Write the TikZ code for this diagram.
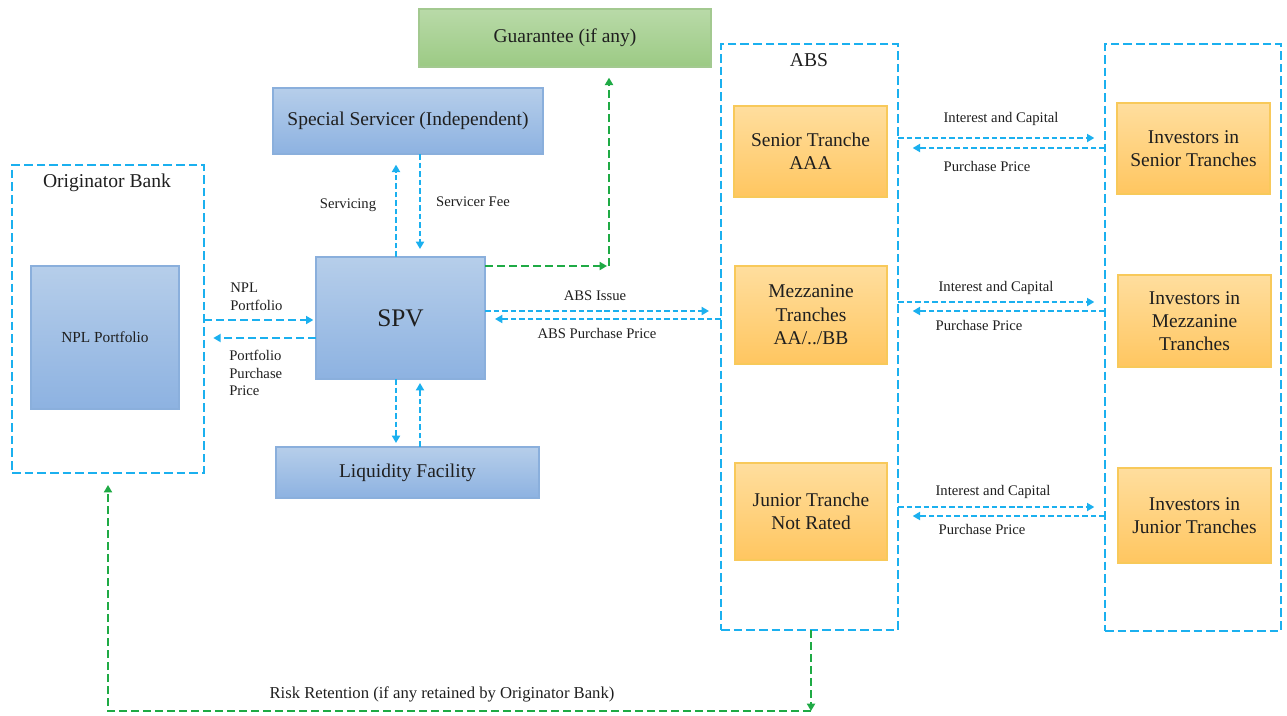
\documentclass[tikz,border=0pt]{standalone}
\usepackage{fontspec}
\setmainfont{Liberation Serif}
\usetikzlibrary{arrows.meta}
\definecolor{bluetop}{HTML}{B6CEEA}
\definecolor{bluebot}{HTML}{8DB2E1}
\definecolor{blueedge}{HTML}{8AAFDC}
\definecolor{ortop}{HTML}{FFDE9E}
\definecolor{orbot}{HTML}{FFC660}
\definecolor{oredge}{HTML}{F8C95A}
\definecolor{grtop}{HTML}{B9DAA8}
\definecolor{grbot}{HTML}{9CCA84}
\definecolor{gredge}{HTML}{A3C990}
\definecolor{cyanline}{HTML}{1BB0EF}
\definecolor{greenline}{HTML}{1FAA45}
\definecolor{txt}{HTML}{1F1F1F}
\tikzset{
  boxbase/.style={line width=0.8pt, inner sep=0pt, outer sep=0pt, align=center, text=txt,
    font=\fontsize{14.6}{17.5}\selectfont},
  bluebox/.style={boxbase, draw=blueedge, top color=bluetop, bottom color=bluebot},
  orbox/.style={boxbase, draw=oredge, top color=ortop, bottom color=orbot},
  grbox/.style={boxbase, draw=gredge, top color=grtop, bottom color=grbot},
  dashbox/.style={draw=cyanline, line width=2.1pt, dash pattern=on 6.5pt off 3pt, inner sep=0pt, outer sep=0pt},
  tip/.style={-{Triangle[length=5.5pt,width=6pt]}},
  carr/.style={draw=cyanline, line width=1.7pt, dash pattern=on 4.2pt off 2.2pt, tip},
  carrthick/.style={draw=cyanline, line width=2pt, dash pattern=on 6pt off 3pt, tip},
  garr/.style={draw=greenline, line width=2pt, dash pattern=on 6pt off 3pt, tip},
  lbl/.style={font=\fontsize{11}{13.2}\selectfont, text=txt, inner sep=0pt},
  title/.style={font=\fontsize{14.7}{17.5}\selectfont, text=txt, inner sep=0pt},
}
\begin{document}
\begin{tikzpicture}[x=0.75pt,y=-0.75pt]
\useasboundingbox (0,0) rectangle (1287,715);

% containers
\node[dashbox, minimum width=144pt, minimum height=231pt] (orig) at (108,319) {};
\node[dashbox, minimum width=132.75pt, minimum height=439.5pt] (absbox) at (809.5,337) {};
\node[dashbox, minimum width=132pt, minimum height=440.25pt] (invbox) at (1193,337.5) {};
\node[title] (origt) at (107,183) {Originator Bank};
\node[title] (abst) at (809,60) {ABS};

% boxes
\node[bluebox, minimum width=111pt, minimum height=107.25pt, font=\fontsize{11.5}{13.8}\selectfont] (npl) at (105,337.5) {NPL Portfolio};
\node[bluebox, minimum width=126.75pt, minimum height=91.5pt, font=\fontsize{19}{22}\selectfont] (spv) at (400.5,318) {SPV};
\node[bluebox, minimum width=202.5pt, minimum height=49.5pt] (ss) at (408,121) {Special Servicer (Independent)};
\node[bluebox, minimum width=197.25pt, minimum height=38.25pt] (liq) at (407.5,472.5) {Liquidity Facility};
\node[grbox, minimum width=219pt, minimum height=43.5pt] (guar) at (565,38) {Guarantee (if any)};

\node[orbox, minimum width=114.75pt, minimum height=68.25pt] (sen) at (810.5,151.5) {Senior Tranche\\AAA};
\node[orbox, minimum width=114pt, minimum height=73.5pt] (mez) at (811,315) {Mezzanine\\Tranches\\AA/../BB};
\node[orbox, minimum width=114pt, minimum height=72.75pt] (jun) at (811,511.5) {Junior Tranche\\Not Rated};
\node[orbox, minimum width=114.75pt, minimum height=68.25pt] (isen) at (1193.5,148.5) {Investors in\\Senior Tranches};
\node[orbox, minimum width=114.75pt, minimum height=69pt] (imez) at (1194.5,321) {Investors in\\Mezzanine\\Tranches};
\node[orbox, minimum width=114.75pt, minimum height=71.25pt] (ijun) at (1194.5,515.5) {Investors in\\Junior Tranches};

% originator <-> SPV
\draw[carrthick, shorten >=2pt] (orig.east |- 0,320) -- (spv.west |- 0,320);
\draw[carrthick, shorten >=7pt] (spv.west |- 0,338) -- (orig.east |- 0,338);
\node[lbl, anchor=west, align=left] (l1) at (230,297) {NPL\\Portfolio};
\node[lbl, anchor=west, align=left] (l2) at (229,373) {Portfolio\\Purchase\\Price};

% servicer
\draw[carr, shorten >=8pt] (spv.north -| 396,0) -- (ss.south -| 396,0);
\draw[carr, shorten >=6pt] (ss.south -| 420,0) -- (spv.north -| 420,0);
\node[lbl] (l3) at (348,205) {Servicing};
\node[lbl] (l4) at (473,202) {Servicer Fee};

% guarantee
\coordinate (g1) at (609,266);
\draw[garr, shorten >=1.5pt] (spv.east |- g1) -- (g1);
\draw[garr, shorten >=8pt] (g1) -- (guar.south -| g1);

% ABS issue
\draw[carr, shorten >=9pt] (spv.east |- 0,311) -- (absbox.west |- 0,311);
\draw[carr, shorten >=7.5pt] (absbox.west |- 0,319) -- (spv.east |- 0,319);
\node[lbl] (l5) at (595,296) {ABS Issue};
\node[lbl] (l6) at (597,333) {ABS Purchase Price};

% liquidity
\draw[carr, shorten >=3pt] (spv.south -| 396,0) -- (liq.north -| 396,0);
\draw[carr, shorten >=3pt] (liq.north -| 420,0) -- (spv.south -| 420,0);

% tranches <-> investors
\draw[carr, shorten >=8pt] (absbox.east |- 0,138) -- (invbox.west |- 0,138);
\draw[carr, shorten >=11pt] (invbox.west |- 0,148) -- (absbox.east |- 0,148);
\node[lbl] (l7) at (1001,119) {Interest and Capital};
\node[lbl] (l8) at (987,166) {Purchase Price};

\draw[carr, shorten >=8pt] (absbox.east |- 0,302) -- (invbox.west |- 0,302);
\draw[carr, shorten >=11pt] (invbox.west |- 0,311) -- (absbox.east |- 0,311);
\node[lbl] (l9) at (996,288) {Interest and Capital};
\node[lbl] (l10) at (979,325) {Purchase Price};

\draw[carr, shorten >=8pt] (absbox.east |- 0,507) -- (invbox.west |- 0,507);
\draw[carr, shorten >=11pt] (invbox.west |- 0,516) -- (absbox.east |- 0,516);
\node[lbl] (l11) at (993,492) {Interest and Capital};
\node[lbl] (l12) at (982,529) {Purchase Price};

% risk retention
\coordinate (r1) at (811,711);
\draw[garr] (absbox.south -| r1) -- (r1);
\draw[garr, shorten >=9pt] (r1) -- (orig.south |- r1) -- (orig.south);
\node[lbl, font=\fontsize{12.5}{15}\selectfont] (l13) at (442,694) {Risk Retention (if any retained by Originator Bank)};
\end{tikzpicture}
\end{document}
